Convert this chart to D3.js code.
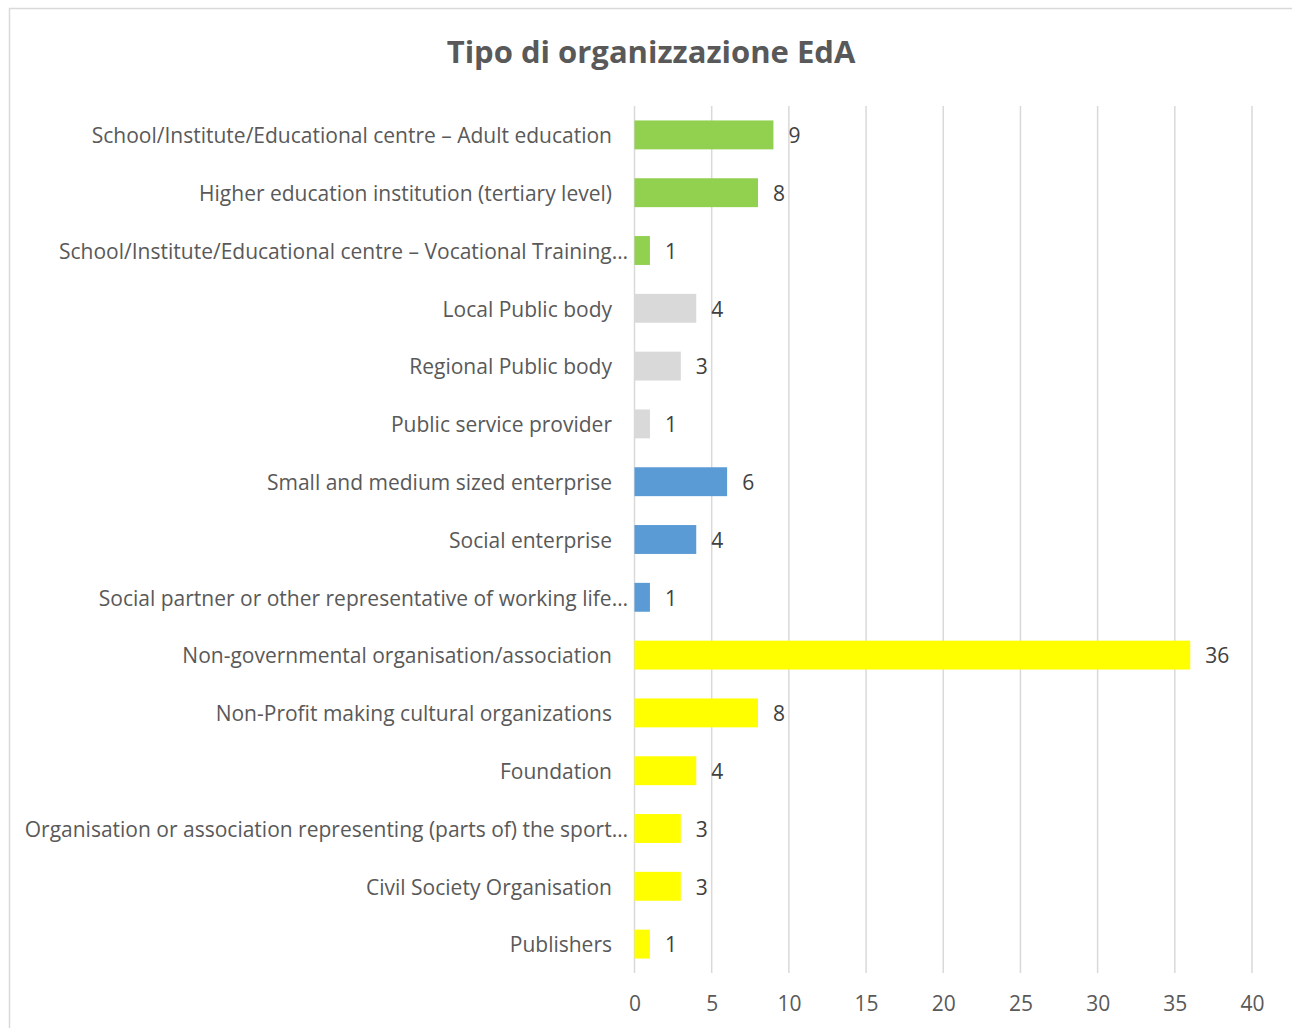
<!DOCTYPE html>
<html>
<head>
<meta charset="utf-8">
<script src="https://cdn.jsdelivr.net/npm/d3@7"></script>
<style>
  body { margin: 0; background: #fff; }
  text { font-family: "Open Sans", Lato, sans-serif; }
</style>
</head>
<body>
<div id="chart"></div>
<script>
const width = 1292
const height = 1028

// categories, top to bottom
const categories = [
  "School/Institute/Educational centre – Adult education",
  "Higher education institution (tertiary level)",
  "School/Institute/Educational centre – Vocational Training…",
  "Local Public body",
  "Regional Public body",
  "Public service provider",
  "Small and medium sized enterprise",
  "Social enterprise",
  "Social partner or other representative of working life…",
  "Non-governmental organisation/association",
  "Non-Profit making cultural organizations",
  "Foundation",
  "Organisation or association representing (parts of) the sport…",
  "Civil Society Organisation",
  "Publishers"
]
const values = [9, 8, 1, 4, 3, 1, 6, 4, 1, 36, 8, 4, 3, 3, 1]
// colour group of each bar
const groups = ["edu", "edu", "edu", "pub", "pub", "pub", "ent", "ent", "ent",
                "ngo", "ngo", "ngo", "ngo", "ngo", "ngo"]
const groupColors = { edu: "#92d050", pub: "#d9d9d9", ent: "#5b9bd5", ngo: "#ffff00" }
const xTicks = [0, 5, 10, 15, 20, 25, 30, 35, 40]

const svg = d3.select("#chart")
  .append("svg")
    .attr("width", width)
    .attr("height", height)

// chart frame (cut off at right / bottom like the original)
svg.append("rect")
  .attr("x", 9.5).attr("y", 8.5)
  .attr("width", width + 20).attr("height", height + 20)
  .attr("fill", "#fff")
  .attr("stroke", "#d9d9d9")
  .attr("stroke-width", 1.5)

svg.append("text")
  .attr("x", 651).attr("y", 63)
  .attr("text-anchor", "middle")
  .attr("font-size", 31)
  .attr("font-weight", "bold")
  .attr("fill", "#595959")
  .text("Tipo di organizzazione EdA")

const x = d3.scaleLinear().domain([0, 40]).range([634.5, 1252])
const y = d3.scaleBand().domain(categories).range([106, 973])
  .paddingInner(0.5).paddingOuter(0.25)

// vertical gridlines
svg.append("g")
  .selectAll("line")
  .data(xTicks)
  .join("line")
    .attr("x1", d => x(d)).attr("x2", d => x(d))
    .attr("y1", 106).attr("y2", 973)
    .attr("stroke", "#d9d9d9")
    .attr("stroke-width", 1.5)

// x axis tick labels
const xAxis = svg.append("g")
  .attr("transform", "translate(0,973)")
  .call(d3.axisBottom(x).tickValues(xTicks).tickSize(0).tickPadding(23))
xAxis.select(".domain").remove()
xAxis.selectAll("text")
  .attr("font-size", 21)
  .attr("font-family", "'Open Sans', sans-serif")
  .attr("fill", "#595959")

// bars
svg.append("g")
  .selectAll("rect")
  .data(categories)
  .join("rect")
    .attr("x", x(0))
    .attr("y", d => y(d))
    .attr("width", (d, i) => x(values[i]) - x(0))
    .attr("height", y.bandwidth())
    .attr("fill", (d, i) => groupColors[groups[i]])

// category labels
svg.append("g")
  .selectAll("text")
  .data(categories)
  .join("text")
    .attr("x", d => d.endsWith("…") ? 628 : 612)
    .attr("y", d => y(d) + y.bandwidth() / 2 + 1)
    .attr("dy", "0.35em")
    .attr("text-anchor", "end")
    .attr("font-size", 21)
    .attr("fill", "#595959")
    .text(d => d)

// value labels
svg.append("g")
  .selectAll("text")
  .data(categories)
  .join("text")
    .attr("x", (d, i) => x(values[i]) + 15)
    .attr("y", d => y(d) + y.bandwidth() / 2 + 1)
    .attr("dy", "0.35em")
    .attr("font-size", 21)
    .attr("fill", "#404040")
    .text((d, i) => values[i])
</script>
</body>
</html>
